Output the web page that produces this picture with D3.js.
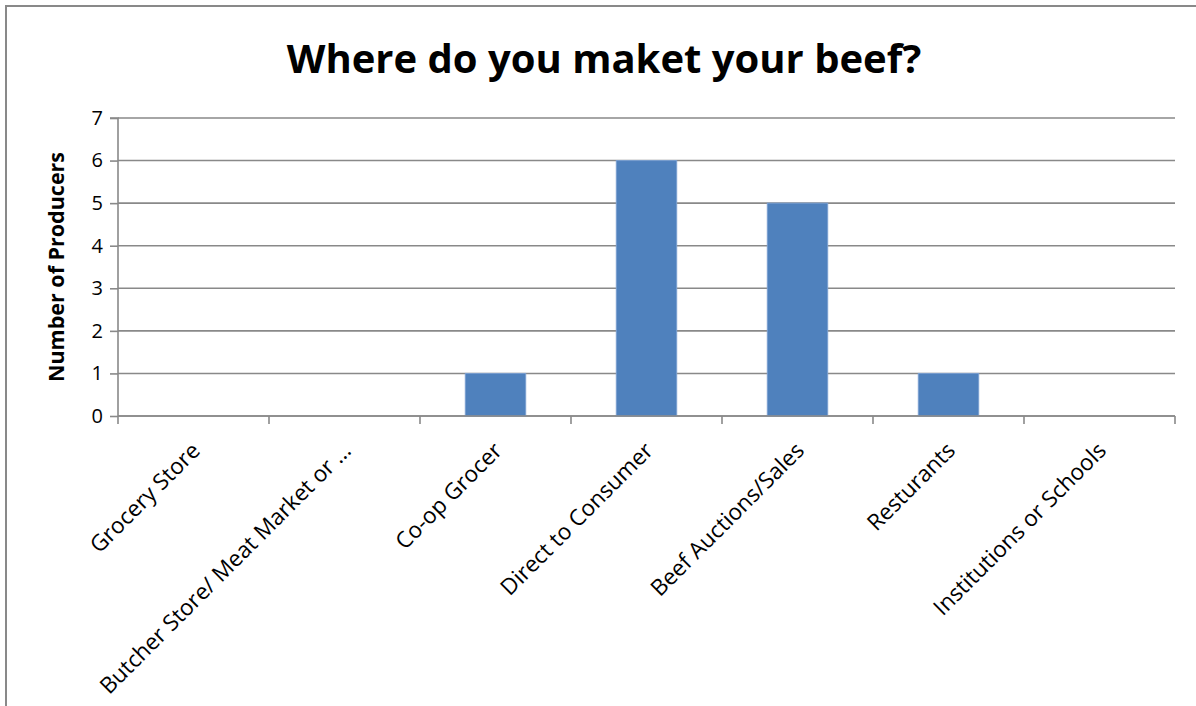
<!DOCTYPE html>
<html>
<head>
<meta charset="utf-8">
<script src="https://cdn.jsdelivr.net/npm/d3@7"></script>
<style>
  html, body { margin: 0; padding: 0; background: #fff; }
  svg { display: block; }
  text { font-family: "Open Sans", "Liberation Sans", sans-serif; fill: #000; }
</style>
</head>
<body>
<svg id="chart" width="1196" height="706"></svg>
<script>
// Survey answers: where producers market their beef
const categories = [
  "Grocery Store",
  "Butcher Store/ Meat Market or \u2026",
  "Co-op Grocer",
  "Direct to Consumer",
  "Beef Auctions/Sales",
  "Resturants",
  "Institutions or Schools"
];
const producers = [0, 0, 1, 6, 5, 1, 0];
const yTicks = [0, 1, 2, 3, 4, 5, 6, 7];
const chartTitle = "Where do you maket your beef?";
const yTitle = "Number of Producers";

const svg = d3.select("#chart");
const W = 1196, H = 706;
const plot = { left: 118, right: 1175, top: 118, bottom: 416 };
const grey = "#898989";

// outer chart frame (runs past the right and bottom edges)
svg.append("rect")
  .attr("x", 6).attr("y", 6)
  .attr("width", W + 20).attr("height", H + 20)
  .attr("fill", "#fff")
  .attr("stroke", grey).attr("stroke-width", 2);

const x = d3.scaleBand()
  .domain(categories)
  .range([plot.left, plot.right])
  .paddingInner(0)
  .paddingOuter(0);

const y = d3.scaleLinear()
  .domain([0, 7])
  .range([plot.bottom, plot.top]);

// horizontal gridlines
svg.append("g")
  .selectAll("line")
  .data(yTicks)
  .join("line")
  .attr("x1", plot.left).attr("x2", plot.right)
  .attr("y1", d => y(d)).attr("y2", d => y(d))
  .attr("stroke", grey).attr("stroke-width", 1.6);

// bars: Excel-style 150% gap width
const gap = 1.5;
const barW = x.bandwidth() / (1 + gap);
svg.append("g")
  .selectAll("rect")
  .data(categories.map((c, i) => ({ c, v: producers[i] })).filter(d => d.v > 0))
  .join("rect")
  .attr("x", d => x(d.c) + (x.bandwidth() - barW) / 2)
  .attr("y", d => y(d.v))
  .attr("width", barW)
  .attr("height", d => y(0) - y(d.v))
  .attr("fill", "#4f81bd")
  .attr("stroke", "#7a9fd0")
  .attr("stroke-width", 1);

// y axis
const yAxis = d3.axisLeft(y).tickValues(yTicks).tickSize(8).tickPadding(7).tickFormat(d3.format("d"));
const gy = svg.append("g").attr("transform", `translate(${plot.left},0)`).call(yAxis);
gy.select(".domain").attr("stroke", grey).attr("stroke-width", 1.6).attr("d", `M-8,${plot.top}H0V${plot.bottom}`);
gy.selectAll(".tick line").attr("stroke", grey).attr("stroke-width", 1.6);
gy.selectAll(".tick text")
  .style("font-size", "20px")
  .style("font-family", "'Open Sans', sans-serif")
  .attr("fill", "#000");

// x axis: ticks sit on the category boundaries
const gx = svg.append("g").attr("transform", `translate(0,${plot.bottom})`);
gx.append("line")
  .attr("x1", plot.left).attr("x2", plot.right)
  .attr("stroke", grey).attr("stroke-width", 1.6);
const bounds = categories.map(c => x(c)).concat([plot.right]);
gx.selectAll("line.tick")
  .data(bounds)
  .join("line")
  .attr("class", "tick")
  .attr("x1", d => d).attr("x2", d => d)
  .attr("y1", 0).attr("y2", 8)
  .attr("stroke", grey).attr("stroke-width", 1.6);

// rotated category labels
gx.selectAll("text")
  .data(categories)
  .join("text")
  .attr("transform", d => `translate(${x(d) + x.bandwidth() / 2 + 8},${36}) rotate(-45)`)
  .attr("text-anchor", "end")
  .style("font-size", "22.5px")
  .text(d => d);

// y axis title
svg.append("text")
  .attr("transform", `translate(64,${(plot.top + plot.bottom) / 2}) rotate(-90)`)
  .attr("text-anchor", "middle")
  .style("font-size", "21.5px")
  .style("font-weight", "bold")
  .text(yTitle);

// chart title
svg.append("text")
  .attr("x", 604)
  .attr("y", 73)
  .attr("text-anchor", "middle")
  .style("font-size", "40px")
  .style("font-weight", "bold")
  .text(chartTitle);
</script>
</body>
</html>
